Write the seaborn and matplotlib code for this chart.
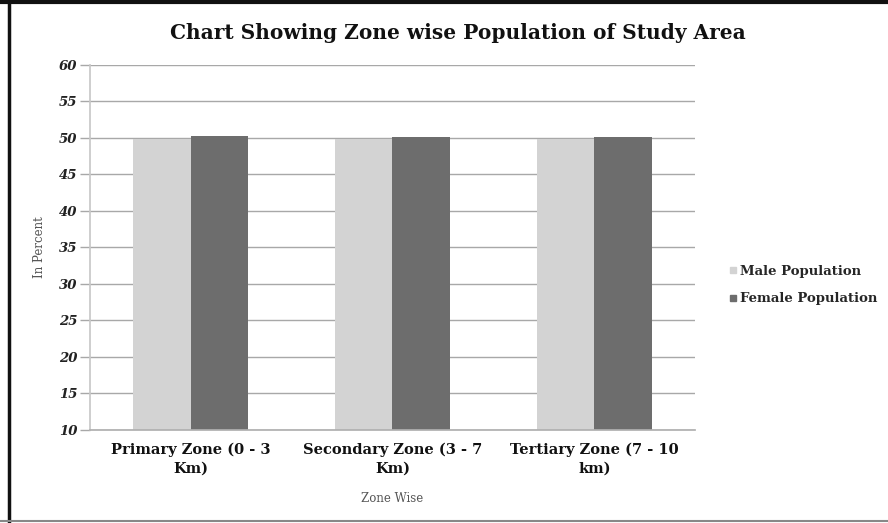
import matplotlib
matplotlib.use("Agg")
import matplotlib.pyplot as plt
import seaborn as sns
import pandas as pd
from matplotlib.lines import Line2D

zones = ["Primary Zone (0 - 3\nKm)", "Secondary Zone (3 - 7\nKm)", "Tertiary Zone (7 - 10\nkm)"]
male = [49.8, 49.9, 49.9]
female = [50.2, 50.1, 50.1]
series = ["Male Population", "Female Population"]
colors = ["#d3d3d3", "#6d6d6d"]
yticks = [10, 15, 20, 25, 30, 35, 40, 45, 50, 55, 60]

df = pd.DataFrame({
    "zone": zones * 2,
    "value": male + female,
    "series": [series[0]] * 3 + [series[1]] * 3,
})

sns.set_theme(style="white")
plt.rcParams["font.family"] = ["DejaVu Serif"]

fig = plt.figure(figsize=(8.88, 5.23), dpi=100)
ax = fig.add_axes([0.101, 0.178, 0.682, 0.698])

sns.barplot(data=df, x="zone", y="value", hue="series", palette=colors,
            width=0.57, gap=0, saturation=1, linewidth=0, ax=ax, legend=False)

ax.set_ylim(10, 60)
ax.set_yticks(yticks)
ax.set_yticklabels([str(t) for t in yticks], fontsize=9.5, fontweight="bold",
                   fontstyle="italic", color="#222222")
ax.set_xticklabels(zones, fontsize=10.5, fontweight="bold", color="#111111",
                   linespacing=1.45)
ax.set_axisbelow(True)
ax.yaxis.grid(True, color="#a8a8a8", linewidth=1.0)
ax.xaxis.grid(False)
ax.tick_params(axis="y", length=7, width=1, color="#a8a8a8", pad=2, left=True)
ax.tick_params(axis="x", length=0, pad=9)

for side in ["top", "right"]:
    ax.spines[side].set_visible(False)
ax.spines["left"].set_color("#c8c8c8")
ax.spines["bottom"].set_color("#b0b0b0")

ax.set_ylabel("In Percent", fontsize=8.5, color="#555555", labelpad=9)
ax.set_xlabel("Zone Wise", fontsize=8.5, color="#555555", labelpad=12)

fig.text(0.516, 0.937, "Chart Showing Zone wise Population of Study Area",
         ha="center", va="center", fontsize=14.5, fontweight="bold", color="#111111")

handles = [Line2D([0], [0], marker="s", linestyle="none", markersize=4,
                  markerfacecolor=c, markeredgecolor=c) for c in colors]
fig.legend(handles, series, loc="center left", bbox_to_anchor=(0.805, 0.455),
           frameon=False, prop={"size": 9.5, "weight": "bold"},
           handletextpad=0.0, labelspacing=1.1, handlelength=1.0)

# outer frame
fig.add_artist(Line2D([0.0, 1.0], [0.996, 0.996], transform=fig.transFigure,
                      color="#111111", linewidth=3))
fig.add_artist(Line2D([0.0105, 0.0105], [0.0, 1.0], transform=fig.transFigure,
                      color="#111111", linewidth=2.5))
fig.add_artist(Line2D([0.0, 1.0], [0.004, 0.004], transform=fig.transFigure,
                      color="#888888", linewidth=1.5))

fig.savefig("out.png", dpi=100, facecolor="white")
